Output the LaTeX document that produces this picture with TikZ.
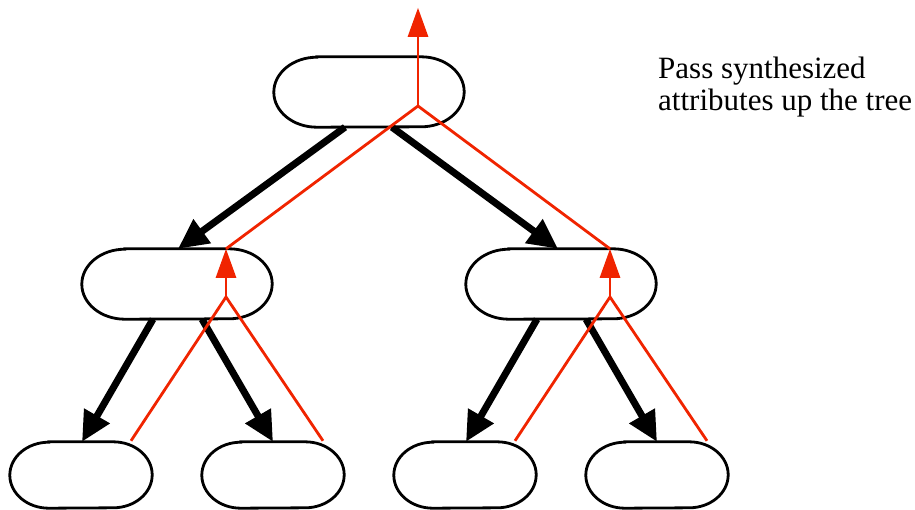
\documentclass[tikz,border=0pt]{standalone}
\usepackage{fontspec}
\setmainfont{Liberation Serif}
\usepackage{tikz}
\usetikzlibrary{arrows.meta,positioning}
\usepackage{xcolor}
\definecolor{synred}{RGB}{240,36,0}
\tikzstyle{treenode} = [rectangle, minimum width=190pt, minimum height=70pt, inner sep=0pt]
\tikzstyle{leafnode} = [treenode, minimum width=142pt, minimum height=66pt]
\tikzstyle{outline} = [line width=2.8pt, draw=black]
\tikzstyle{edge} = [line width=7pt, -{Triangle[length=30pt,width=28pt]}, color=black]
\tikzstyle{synarrow} = [line width=2.8pt, -{Triangle[length=29pt,width=20pt]}, color=synred]
\tikzstyle{synline} = [line width=2.8pt, color=synred]
% stadium outline with oval ends: node, x radius, y radius
\newcommand{\ovalbox}[3]{%
  \draw[outline] ([xshift=#2]#1.north west) -- ([xshift=-#2]#1.north east)
    arc[start angle=90, end angle=-90, x radius=#2, y radius=#3]
    -- ([xshift=#2]#1.south west)
    arc[start angle=270, end angle=90, x radius=#2, y radius=#3] -- cycle;}

\begin{document}
\begin{tikzpicture}[node distance=192pt]
\useasboundingbox (0pt,0pt) rectangle (915pt,-509pt);
% the tree
\node (root) [treenode] at (369pt,-92pt) {};
\node (midl) [treenode, below of=root, xshift=-192pt] {};
\node (midr) [treenode, below of=root, xshift=192pt] {};
\node (leafa) [leafnode, below of=midl, yshift=1pt, xshift=-96pt] {};
\node (leafb) [leafnode, below of=midl, yshift=1pt, xshift=96pt] {};
\node (leafc) [leafnode, below of=midr, yshift=1pt, xshift=-96pt] {};
\node (leafd) [leafnode, below of=midr, yshift=1pt, xshift=96pt] {};
\foreach \n in {root,midl,midr} {\ovalbox{\n}{43pt}{35pt}}
\foreach \n in {leafa,leafb,leafc,leafd} {\ovalbox{\n}{39pt}{33pt}}

% parent to child
\draw[edge] ([xshift=-24pt]root.south) -- ([xshift=1pt]midl.north);
\draw[edge] ([xshift=23pt]root.south) -- ([xshift=-3pt]midr.north);
\draw[edge] ([xshift=-24pt]midl.south) -- ([xshift=1pt]leafa.north);
\draw[edge] ([xshift=25pt]midl.south) -- (leafb.north);
\draw[edge] ([xshift=-24pt]midr.south) -- ([xshift=1pt]leafc.north);
\draw[edge] ([xshift=25pt]midr.south) -- (leafd.north);

% synthesized attributes
\coordinate (rootj) at ([xshift=49pt,yshift=-14pt]root.center);
\coordinate (roottop) at ([xshift=49pt,yshift=49pt]root.north);
\coordinate (midlj) at ([xshift=49pt,yshift=-13pt]midl.center);
\coordinate (midlt) at ([xshift=49pt]midl.north);
\coordinate (midrj) at ([xshift=49pt,yshift=-13pt]midr.center);
\coordinate (midrt) at ([xshift=49pt]midr.north);

\draw[synarrow] (rootj) -- (roottop);
\draw[synarrow] (midlj) -- (midlt);
\draw[synarrow] (midrj) -- (midrt);
\draw[synline] (rootj) -- (midlt);
\draw[synline] (rootj) -- (midrt);
\draw[synline] (midlj) -- ([xshift=50pt,yshift=1pt]leafa.north);
\draw[synline] (midlj) -- ([xshift=50pt,yshift=1pt]leafb.north);
\draw[synline] (midrj) -- ([xshift=50pt,yshift=1pt]leafc.north);
\draw[synline] (midrj) -- ([xshift=50pt,yshift=1pt]leafd.north);

\node (note) [anchor=north west, inner sep=0pt, align=left, font=\fontsize{31pt}{32pt}\selectfont] at (658pt,-57pt) {Pass synthesized\\attributes up the tree};
\end{tikzpicture}
\end{document}
